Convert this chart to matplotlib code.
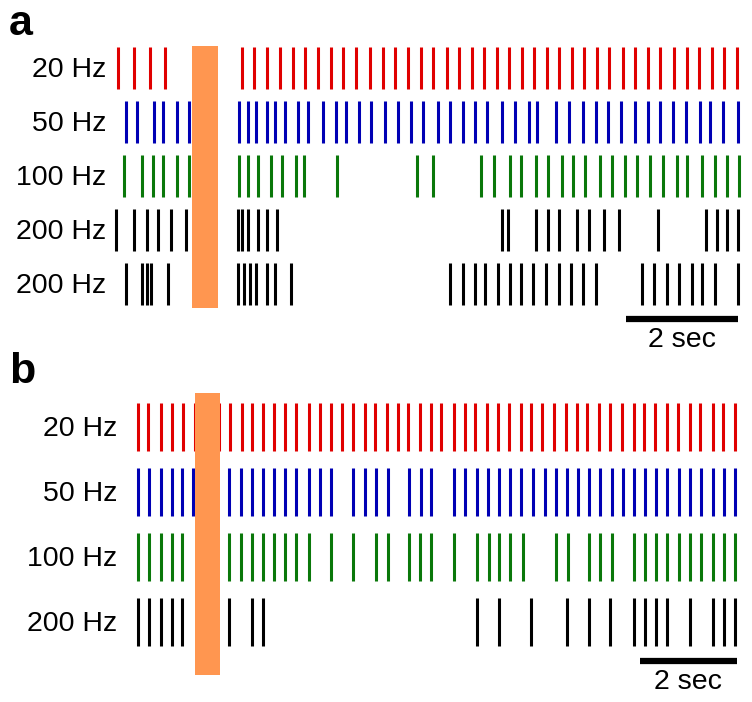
import matplotlib
matplotlib.use('Agg')
import matplotlib.pyplot as plt
from matplotlib.patches import Rectangle

plt.rcParams['font.family'] = ['Liberation Sans', 'DejaVu Sans']

# spike times (s), panel a
a_20 = [0.05, 0.34, 0.63, 0.89, 2.26, 2.49, 2.71, 2.95, 3.17, 3.39, 3.62, 3.86, 4.08,
        4.31, 4.55, 4.78, 5.00, 5.24, 5.46, 5.68, 5.92, 6.15, 6.38, 6.59, 6.82, 7.04,
        7.26, 7.49, 7.71, 7.93, 8.16, 8.38, 8.60, 8.83, 9.07, 9.29, 9.52, 9.74, 9.99,
        10.21, 10.43, 10.66, 10.88, 11.10]
a_50 = [0.19, 0.39, 0.70, 0.86, 1.11, 1.32, 2.22, 2.37, 2.52, 2.71, 2.86, 3.04, 3.27,
        3.45, 3.71, 3.94, 4.12, 4.35, 4.57, 4.83, 5.05, 5.28, 5.50, 5.76, 5.98, 6.21,
        6.43, 6.65, 6.91, 7.14, 7.40, 7.54, 7.88, 8.10, 8.36, 8.59, 8.81, 9.03, 9.29,
        9.52, 9.74, 9.96, 10.19, 10.45, 10.63, 10.86, 11.12]
a_100 = [0.16, 0.48, 0.68, 0.85, 1.11, 1.32, 2.22, 2.37, 2.56, 2.78, 2.99, 3.23, 3.38,
         3.97, 5.40, 5.68, 6.54, 6.76, 7.06, 7.25, 7.51, 7.73, 7.99, 8.18, 8.40, 8.66,
         8.88, 9.11, 9.33, 9.55, 9.78, 10.04, 10.22, 10.48, 10.71, 10.93, 11.15]
a_200a = [0.01, 0.34, 0.57, 0.77, 1.00, 1.26, 2.19, 2.26, 2.37, 2.56, 2.71, 2.89, 6.91,
          7.02, 7.51, 7.73, 7.92, 8.25, 8.47, 8.74, 9.00, 9.70, 10.56, 10.75, 10.93, 11.12]
a_200b = [0.19, 0.48, 0.57, 0.64, 0.94, 2.19, 2.30, 2.41, 2.52, 2.71, 2.86, 3.15, 5.98,
          6.21, 6.43, 6.61, 6.84, 7.06, 7.25, 7.47, 7.69, 7.92, 8.14, 8.36, 8.59, 9.41,
          9.63, 9.85, 10.07, 10.30, 10.48, 10.71, 11.12]

# spike times (s), panel b
b_20 = [0.44, 0.64, 0.90, 1.13, 1.37, 1.61, 1.87, 2.10, 2.33, 2.57, 2.79, 3.02, 3.24,
        3.47, 3.70, 3.95, 4.19, 4.42, 4.63, 4.87, 5.11, 5.32, 5.56, 5.79, 6.01, 6.25,
        6.48, 6.69, 6.94, 7.17, 7.38, 7.62, 7.85, 8.09, 8.33, 8.54, 8.77, 9.01, 9.25,
        9.49, 9.70, 9.94, 10.17, 10.41, 10.65, 10.86, 11.09, 11.33, 11.57, 11.81, 12.02,
        12.28, 12.49, 12.75]
b_50 = [0.44, 0.66, 0.90, 1.13, 1.35, 1.56, 2.31, 2.55, 2.79, 3.02, 3.24, 3.47, 3.70,
        3.95, 4.19, 4.42, 4.87, 5.11, 5.34, 5.58, 6.02, 6.27, 6.48, 6.95, 7.17, 7.42,
        7.64, 7.88, 8.11, 8.34, 8.58, 8.83, 9.06, 9.27, 9.51, 9.74, 9.96, 10.20, 10.43,
        10.66, 10.89, 11.12, 11.35, 11.59, 11.81, 12.04, 12.28, 12.52, 12.75]
b_100 = [0.44, 0.66, 0.90, 1.13, 1.35, 2.31, 2.55, 2.79, 3.02, 3.24, 3.47, 3.70, 3.95,
         4.42, 4.87, 5.34, 5.58, 6.02, 6.25, 6.48, 6.95, 7.42, 7.66, 7.88, 8.11, 8.37,
         9.06, 9.29, 9.74, 9.96, 10.20, 10.65, 10.89, 11.12, 11.35, 11.59, 11.81, 12.04,
         12.28, 12.52, 12.75]
b_200 = [0.44, 0.66, 0.90, 1.13, 1.35, 2.31, 2.79, 3.02, 7.42, 7.88, 8.54, 9.27, 9.74,
         10.17, 10.65, 10.89, 11.12, 11.35, 11.81, 12.28, 12.52, 12.75]

labels_a = ['20 Hz', '50 Hz', '100 Hz', '200 Hz', '200 Hz']
labels_b = ['20 Hz', '50 Hz', '100 Hz', '200 Hz']
colors_a = ['#e00000', '#0000b4', '#0a780a', 'black', 'black']
colors_b = ['#e00000', '#0000b4', '#0a780a', 'black']
stim_a = (1.375, 1.84)   # orange stimulus window
stim_b = (1.61, 2.12)

W, H = 752, 702
fig = plt.figure(figsize=(W / 100, H / 100), dpi=100)

# panel a : pixel x -> t = (x - 115) / 56 ; rows every 54 px from y=68
axa = fig.add_axes([110 / W, 1 - 370 / H, 635 / W, 370 / H])
axa.set_xlim((110 - 115) / 56, (745 - 115) / 56)
axa.set_ylim((370 - 68) / 54, (0 - 68) / 54)
axa.axis('off')
axa.eventplot([a_20, a_50, a_100, a_200a, a_200b], colors=colors_a,
              lineoffsets=1, linelengths=0.78, linewidths=2.2)
axa.add_patch(Rectangle((stim_a[0], -0.4), stim_a[1] - stim_a[0], 4.85,
                        color='#ff9650', zorder=3, lw=0))
for i, lab in enumerate(labels_a):
    axa.text(-0.16, i + 0.04, lab, ha='right', va='center', fontsize=20.5)
axa.plot([9.125, 11.125], [4.65, 4.65], color='black', lw=4.5, solid_capstyle='butt')
axa.text(10.125, 4.8, '2 sec', ha='center', va='top', fontsize=20.5)
fig.text(9 / W, 1 - 24 / H, 'a', fontsize=31, fontweight='bold', va='center')

# panel b : pixel x -> t = (x - 117) / 48.5 ; rows every 65 px from y=427
axb = fig.add_axes([110 / W, 0, 635 / W, 332 / H])
axb.set_xlim((110 - 117) / 48.5, (745 - 117) / 48.5)
axb.set_ylim((702 - 427) / 65, (370 - 427) / 65)
axb.axis('off')
axb.eventplot([b_20, b_50, b_100, b_200], colors=colors_b,
              lineoffsets=1, linelengths=0.74, linewidths=2.2)
axb.add_patch(Rectangle((stim_b[0], -0.52), stim_b[1] - stim_b[0], 4.34,
                        color='#ff9650', zorder=3, lw=0))
for i, lab in enumerate(labels_b):
    axb.text(0.0, i + 0.03, lab, ha='right', va='center', fontsize=20.5)
axb.plot([10.78, 12.78], [3.6, 3.6], color='black', lw=4.5, solid_capstyle='butt')
axb.text(11.78, 3.72, '2 sec', ha='center', va='top', fontsize=20.5)
fig.text(9 / W, 1 - 372 / H, 'b', fontsize=31, fontweight='bold', va='center')

fig.savefig('out.png', dpi=100, facecolor='white')
